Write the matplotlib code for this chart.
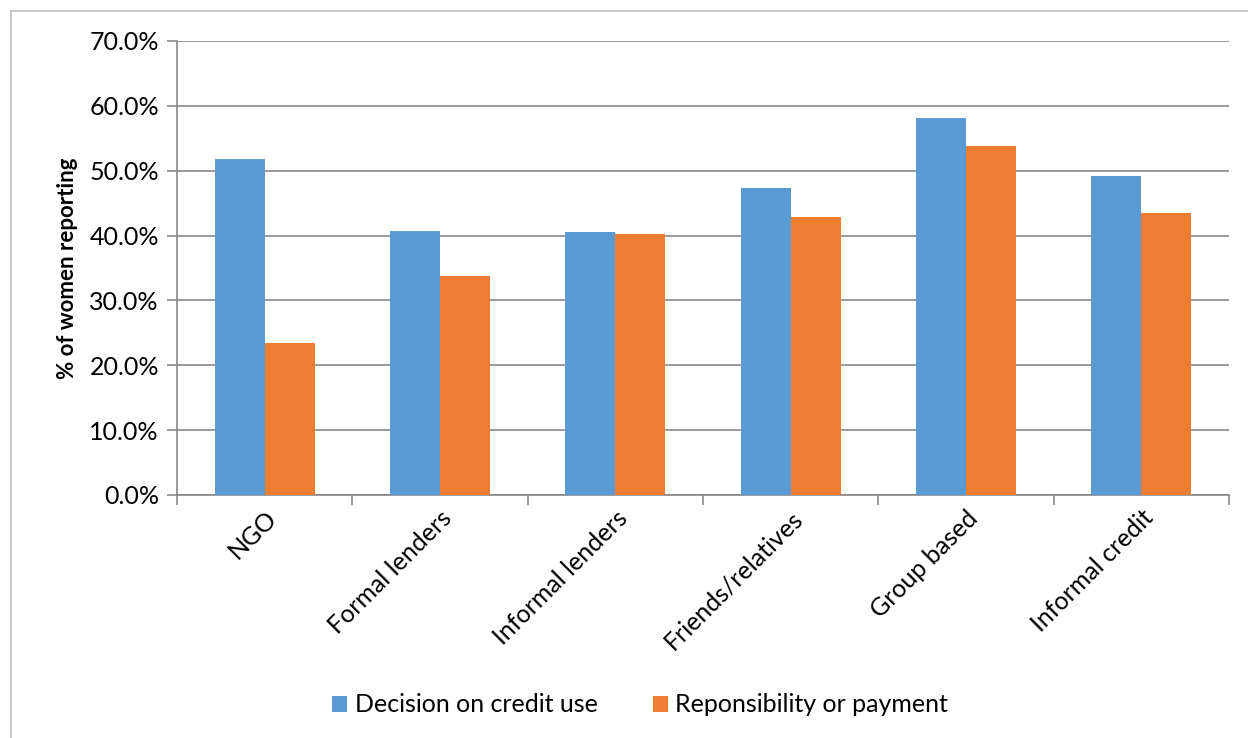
import numpy as np
import matplotlib.pyplot as plt
from matplotlib.patches import Rectangle

# Данные
categories = ['NGO', 'Formal lenders', 'Informal lenders', 'Friends/relatives',
              'Group based', 'Informal credit']
decision = [51.8, 40.7, 40.5, 47.3, 58.1, 49.2]
responsibility = [23.4, 33.8, 40.2, 42.9, 53.8, 43.5]
series_names = ['Decision on credit use', 'Reponsibility or payment']

blue = '#5B9BD5'
orange = '#ED7D31'
grid_color = '#898989'

plt.rcParams['font.family'] = ['Lato', 'DejaVu Sans']

fig = plt.figure(figsize=(12.48, 7.38), dpi=100)
ax = fig.add_axes([177 / 1248, 1 - 495 / 738, 1052 / 1248, 454 / 738])

# рамка вокруг всей диаграммы
fig.patches.append(Rectangle((11 / 1248, -0.01), 1.1, 1 - 11 / 738 + 0.01,
                             transform=fig.transFigure, fill=False,
                             edgecolor='#BDBDBD', linewidth=1.2))

x = np.arange(len(categories))
w = 0.286
ax.bar(x - w / 2, decision, w, color=blue, label=series_names[0], zorder=3)
ax.bar(x + w / 2, responsibility, w, color=orange, label=series_names[1], zorder=3)

ax.set_xlim(-0.5, len(categories) - 0.5)
ax.set_ylim(0, 70)
ax.set_yticks(np.arange(0, 71, 10))
ax.set_yticklabels([f'{v:.1f}%' for v in np.arange(0, 71, 10)], fontsize=18)
ax.yaxis.grid(True, color=grid_color, linewidth=1.2, zorder=0)

# основные метки по краям категорий, подписи по центру
ax.set_xticks(np.arange(-0.5, len(categories), 1.0))
ax.set_xticklabels([])
ax.set_xticks(x, minor=True)
ax.set_xticklabels(categories, minor=True, rotation=45, ha='right',
                   rotation_mode='anchor', fontsize=18)
ax.tick_params(axis='x', which='minor', length=0, pad=8)
ax.tick_params(axis='x', which='major', length=7, color=grid_color, width=1.2)
ax.tick_params(axis='y', length=7, color=grid_color, width=1.2, pad=6)

for s in ['top', 'right']:
    ax.spines[s].set_visible(False)
for s in ['left', 'bottom']:
    ax.spines[s].set_color(grid_color)
    ax.spines[s].set_linewidth(1.2)

ax.set_ylabel('% of women reporting', fontsize=16, fontweight='bold', labelpad=8)

fig.legend(loc='center', bbox_to_anchor=(640 / 1248, 1 - 705 / 738), ncol=2,
           frameon=False, fontsize=18, handlelength=0.6, handleheight=0.6,
           handletextpad=0.3, columnspacing=2.2)

fig.savefig('out.png', dpi=100)
